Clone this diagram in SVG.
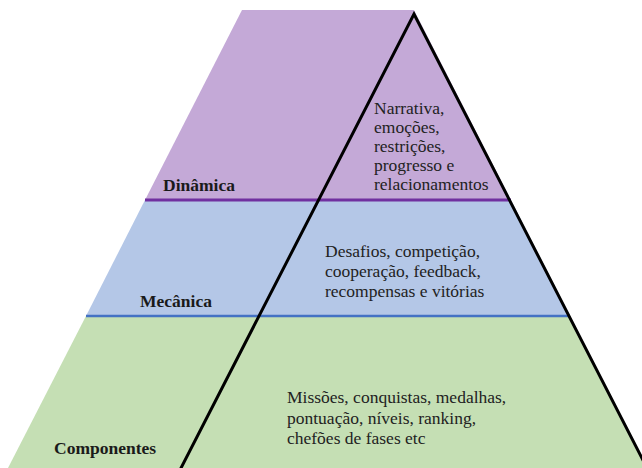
<svg xmlns="http://www.w3.org/2000/svg" width="642" height="468" viewBox="0 0 642 468">
<style>
.lbl{font-family:'Liberation Serif',serif;font-size:17.5px;font-weight:bold;fill:#1a1a1a}
.txt{font-family:'Liberation Serif',serif;font-size:17.5px;fill:#222}
.edge{fill:none;stroke:#000;stroke-width:3;stroke-linejoin:miter}
</style>
<rect width="642" height="468" fill="#fff"/>
<g id="layer-dinamica">
<polygon points="242,10 414,10 511,200 145,200" fill="#C4A9D7"/>
<text class="lbl" x="163" y="191">Dinâmica</text>
<text class="txt" x="374" y="114">Narrativa,</text>
<text class="txt" x="374" y="133">emoções,</text>
<text class="txt" x="374" y="152">restrições,</text>
<text class="txt" x="374" y="171">progresso e</text>
<text class="txt" x="374" y="190">relacionamentos</text>
</g>
<g id="layer-mecanica">
<polygon points="145,200 511,200 570,316 86,316" fill="#B4C7E7"/>
<text class="lbl" x="140" y="307">Mecânica</text>
<text class="txt" x="325" y="257">Desafios, competição,</text>
<text class="txt" x="325" y="277">cooperação, feedback,</text>
<text class="txt" x="325" y="297">recompensas e vitórias</text>
</g>
<g id="layer-componentes">
<polygon points="86,316 570,316 648,468 8,468" fill="#C5DFB4"/>
<text class="lbl" x="54" y="454">Componentes</text>
<text class="txt" x="287" y="403">Missões, conquistas, medalhas,</text>
<text class="txt" x="287" y="423.5">pontuação, níveis, ranking,</text>
<text class="txt" x="287" y="444">chefões de fases etc</text>
</g>
<g id="connectors">
<line x1="145" y1="200" x2="511" y2="200" stroke="#7030A0" stroke-width="3"/>
<line x1="86" y1="316" x2="570" y2="316" stroke="#4472C4" stroke-width="2.5"/>
<polyline class="edge" points="180,470 414,14 648,470"/>
</g>
</svg>
